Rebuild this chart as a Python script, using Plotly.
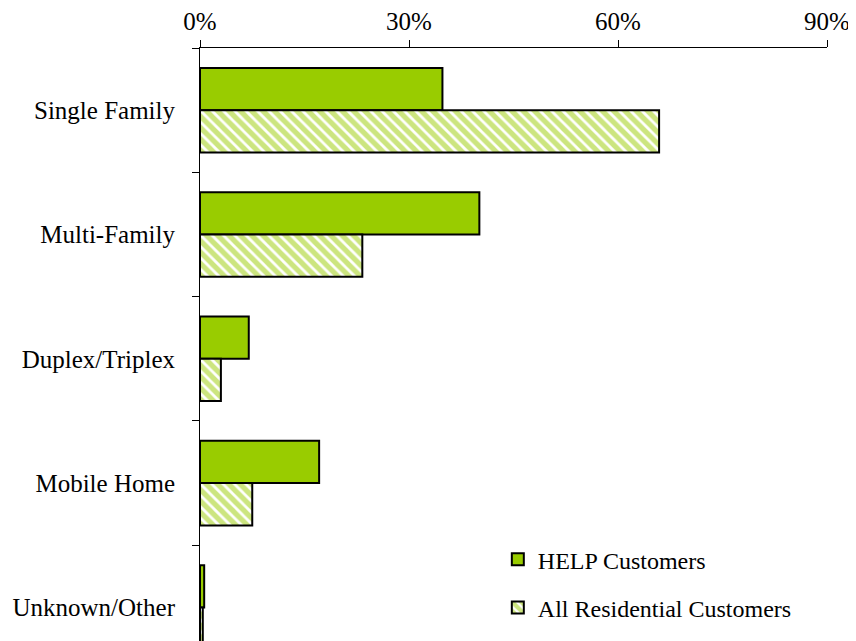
import plotly.graph_objects as go

# housing types
categories = ["Single Family", "Multi-Family", "Duplex/Triplex", "Mobile Home", "Unknown/Other"]
help_customers = [34.8, 40.1, 7.0, 17.1, 0.6]
all_residential = [65.9, 23.3, 3.0, 7.5, 0.4]
x_ticks = [0, 30, 60, 90]
x_tick_labels = ["0%", "30%", "60%", "90%"]

green = "#99cc00"
serif = "'Liberation Serif', 'Times New Roman', serif"

fig = go.Figure()
fig.add_trace(go.Bar(
    y=categories, x=help_customers, orientation="h", name="HELP Customers",
    legendgroup="a",
    marker=dict(color=green, line=dict(color="black", width=2)),
))
fig.add_trace(go.Bar(
    y=categories, x=all_residential, orientation="h", name="All Residential Customers",
    legendgroup="b",
    marker=dict(color="white", line=dict(color="black", width=2),
                pattern=dict(shape="\\", fgcolor=green, bgcolor="white", size=8, solidity=0.65)),
))

# page body has an 8px margin, so the figure is a bit smaller than the window
fig.update_layout(
    width=848, height=633,
    margin=dict(l=192, r=29, t=40, b=0),
    paper_bgcolor="white", plot_bgcolor="white",
    barmode="group", bargap=0.32, bargroupgap=0,
    font=dict(family=serif, size=25, color="black"),
    legend=dict(x=0.475, y=0.175, xanchor="left", yanchor="top",
                traceorder="grouped", tracegroupgap=14,
                font=dict(family=serif, size=24), bgcolor="rgba(0,0,0,0)"),
)
fig.update_xaxes(
    side="top", range=[0, 90], tickvals=x_ticks, ticktext=x_tick_labels,
    showgrid=False, zeroline=False, showline=True, linecolor="black", linewidth=1,
    ticks="outside", ticklen=7, tickcolor="black", automargin=False,
)
fig.update_yaxes(
    range=[4.27, -0.5], showgrid=False, showline=True, linecolor="black", linewidth=1,
    ticks="outside", tickson="boundaries", ticklen=7, tickcolor="black",
    ticklabelstandoff=19, automargin=False,
)

fig.write_html("out.html")
